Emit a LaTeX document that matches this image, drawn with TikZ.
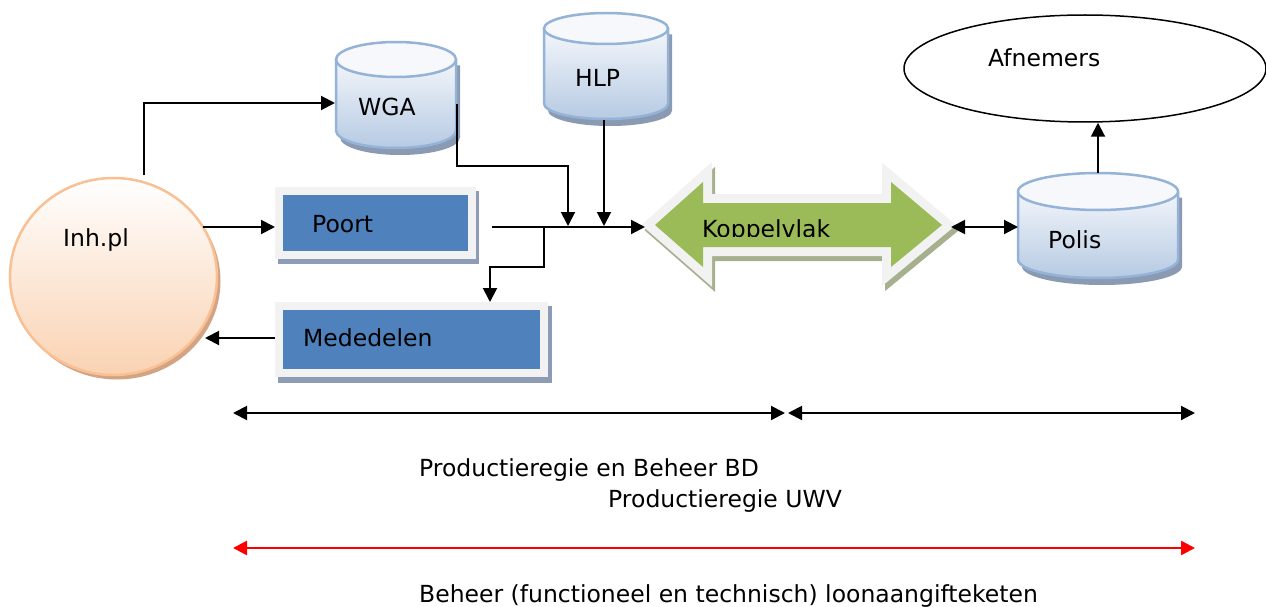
\documentclass[tikz,border=0pt]{standalone}
\usepackage{fontspec}
\setmainfont{DejaVu Sans}
\usetikzlibrary{arrows.meta,shapes.geometric,calc}
\definecolor{cylborder}{HTML}{95B3D7}
\definecolor{cylbot}{HTML}{B6CAE3}
\definecolor{cyltop}{HTML}{F6F8FC}
\definecolor{cylshadow}{HTML}{8A9AB2}
\definecolor{boxblue}{HTML}{4F81BD}
\definecolor{frame}{HTML}{F2F2F2}
\definecolor{boxshadow}{HTML}{8D9CB4}
\definecolor{kgreen}{HTML}{9BBB59}
\definecolor{kshadow}{HTML}{A7B08E}
\definecolor{circborder}{HTML}{F9C093}
\definecolor{circbot}{HTML}{FAD2B2}
\definecolor{circshadow}{HTML}{D2A483}
\newcommand\dbcyl[5]{%
\begin{scope}[shift={(#1,-#2)}]
 \fill[cylshadow] (-#4+4,-#5-6) -- (-#4+4,-#3+#5-7) arc[start angle=180,end angle=360,x radius=#4,y radius=#5] -- (#4+4,-#5-6) -- cycle;
 \path[top color=white,bottom color=cylbot] (-#4,-#5) -- (-#4,-#3+#5) arc[start angle=180,end angle=360,x radius=#4,y radius=#5] -- (#4,-#5) arc[start angle=0,end angle=180,x radius=#4,y radius=#5] -- cycle;
 \draw[cylborder,line width=2.5] (-#4,-#5) -- (-#4,-#3+#5) arc[start angle=180,end angle=360,x radius=#4,y radius=#5] -- (#4,-#5);
 \draw[cylborder,line width=2.5,fill=cyltop] (0,-#5) ellipse[x radius=#4,y radius=#5];
\end{scope}}
\tikzset{
  lbl/.style={font=\fontsize{23.5}{28}\selectfont, inner sep=0, anchor=base west},
  hidden/.style={inner sep=0, outer sep=0, draw=none},
  box/.style={draw=frame, line width=8, fill=boxblue, inner sep=0},
  arr/.style={-{Triangle[length=14pt,width=14pt]}, line width=2},
  darr/.style={{Triangle[length=14pt,width=14pt]}-{Triangle[length=14pt,width=14pt]}, line width=2},
}
\begin{document}
\begin{tikzpicture}[x=1pt,y=1pt]
\useasboundingbox (0,0) rectangle (1266,-607);
\fill[white] (0,0) rectangle (1266,-607);

% Inh.pl circle
\fill[circshadow] (117,-281) ellipse[x radius=103.5,y radius=98.5];
\node (inh) [ellipse, minimum width=207, minimum height=197, draw=circborder, line width=2.5, top color=white, bottom color=circbot, inner sep=0] at (113.5,-276.5) {};
\node[lbl] (inhT) at (63,-246) {Inh.pl};

% cylinders
\dbcyl{396}{42}{106}{60}{17.5}
\node (wga) [hidden, minimum width=122, minimum height=100] at (396,-103) {};
\node[lbl] (wgaT) at (358,-116) {WGA};

\dbcyl{606}{13}{106}{62}{15.5}
\node (hlp) [hidden, minimum width=124, minimum height=100] at (604,-70) {};
\node[lbl] (hlpT) at (575,-87) {HLP};

\dbcyl{1098}{173}{105}{80}{18.5}
\node (polis) [hidden, minimum width=160, minimum height=110] at (1098,-228) {};
\node[lbl] (polisT) at (1048,-248) {Polis};

% Afnemers
\node (afn) [ellipse, draw, line width=1.5, fill=white, minimum width=362, minimum height=107, inner sep=0] at (1085,-68.5) {};
\node[lbl] (afnT) at (988,-67) {Afnemers};

% boxes
\fill[boxshadow] (278,-191) rectangle (479,-264);
\node (poort) [box, minimum width=193, minimum height=64] at (375.5,-223) {};
\node[lbl] (poortT) at (312,-232) {Poort};

\fill[boxshadow] (278,-306) rectangle (552,-383);
\node (med) [box, minimum width=265, minimum height=67] at (411.5,-339.5) {};
\node[lbl] (medT) at (303,-346) {Mededelen};

% Koppelvlak double arrow
\def\kop{(655,-225) -- (703,-182) -- (703,-203) -- (891,-203) -- (891,-182) -- (942,-225) -- (891,-267) -- (891,-247) -- (703,-247) -- (703,-267) -- cycle}
\begin{scope}[shift={(3,-5)}]
\filldraw[kshadow, line width=18, miter limit=10] \kop;
\end{scope}
\draw[frame, line width=18, miter limit=10] \kop;
\fill[kgreen] \kop;
\node (kop) [hidden, minimum width=306, minimum height=120] at (798,-225) {};
\begin{scope}
\clip (640,-190) rectangle (960,-236);
\node[lbl] (kopT) at (702,-237.5) {Koppelvlak};
\end{scope}

% connectors
\coordinate (c1) at (144,-175);
\draw[arr] (c1) |- (wga.west);
\coordinate (c2) at (203,-227);
\draw[arr] (c2) -- (c2 -| poort.west);
\coordinate (c3) at (205,-338);
\draw[arr] (c3 -| med.west) -- (c3);
\coordinate (c4) at (492,-227);
\draw[arr] (c4) -- (c4 -| kop.west);
\coordinate (c5) at (544,-227);
\draw[arr] (c5) -- ++(0,-39.5) -| ([xshift=78.5]med.north);
\coordinate (j1) at (568,-226);
\coordinate (j2) at (604,-226);
\draw[arr] ([yshift=-1]wga.east) -- ++(0,-62) -| (j1);
\draw[arr] (hlp.south) -- (j2);
\draw[darr] (kop.east |- 0,-227) -- (polis.west |- 0,-227);
\draw[arr] (polis.north) -- (polis.north |- afn.south);

% bottom ranges
\coordinate (b1) at (233,-413);
\coordinate (b2) at (785,-413);
\coordinate (b3) at (788,-413);
\coordinate (b4) at (1195,-413);
\draw[darr] (b1) -- (b2);
\draw[darr] (b3) -- (b4);
\coordinate (r1) at (233,-548);
\coordinate (r2) at (1195,-548);
\draw[darr, red, line width=2.5] (r1) -- (r2);

\node[lbl] (t1) at (419,-476) {Productieregie en Beheer BD};
\node[lbl] (t2) at (608,-507) {Productieregie UWV};
\node[lbl] (t3) at (419,-602) {Beheer (functioneel en technisch) loonaangifteketen};
\end{tikzpicture}
\end{document}
